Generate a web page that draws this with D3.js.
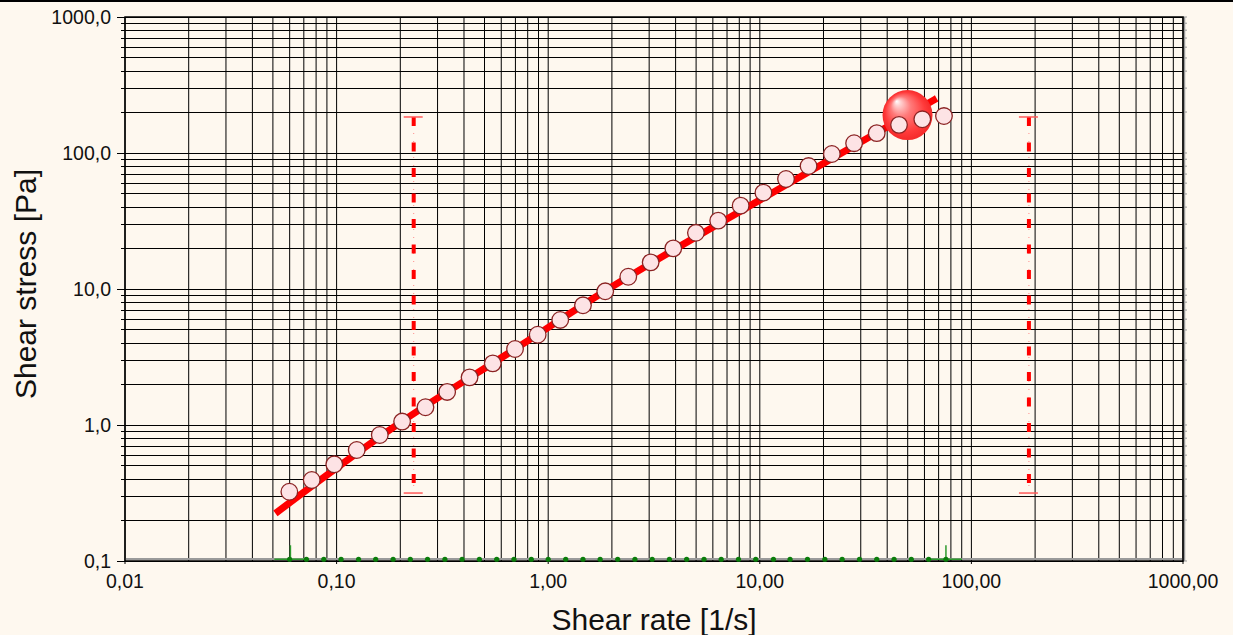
<!DOCTYPE html>
<html>
<head>
<meta charset="utf-8">
<script src="https://cdn.jsdelivr.net/npm/d3@7"></script>
<style>
  body { margin: 0; background: #fef8ef; }
  text { font-family: "Liberation Sans", Arial, sans-serif; fill: #111; }
</style>
</head>
<body>
<script>
// Measured points: shear rate [1/s] and shear stress [Pa]
const shearRate = [0.0598, 0.0763, 0.0975, 0.1245, 0.160, 0.204, 0.263, 0.333, 0.425, 0.547,
    0.697, 0.892, 1.14, 1.46, 1.86, 2.39, 3.05, 3.90, 4.99, 6.36,
    8.12, 10.4, 13.3, 17.0, 21.9, 27.9, 35.7, 45.5, 58.6, 74.2];
const shearStress = [0.323, 0.394, 0.514, 0.655, 0.844, 1.06, 1.35, 1.75, 2.24, 2.84,
    3.62, 4.61, 5.92, 7.59, 9.62, 12.3, 15.7, 19.9, 25.9, 31.8,
    41.0, 51.1, 64.4, 80.2, 98.3, 118, 140, 161, 177, 187];

// Fitted model curve
const fitRate = [0.0514, 0.203, 0.697, 1.89, 6.37, 17.0, 68.5];
const fitStress = [0.224, 1.057, 3.62, 9.83, 30.1, 72.5, 252];

// Highlighted point (big sphere)
const highlightRate = 49.9;
const highlightStress = 190;

// Range markers (dashed vertical lines)
const rangeRate = [0.2314, 187];
const rangeStress = [0.316, 184];

// Second series along the bottom (green)
const greenRate = [0.060, 0.072, 0.087, 0.105, 0.127, 0.153, 0.185, 0.223, 0.269, 0.325,
    0.392, 0.473, 0.571, 0.689, 0.832, 1.00, 1.21, 1.46, 1.76, 2.13,
    2.57, 3.10, 3.74, 4.51, 5.45, 6.57, 7.93, 9.57, 11.6, 13.9,
    16.8, 20.3, 24.5, 29.6, 35.7, 43.1, 52.0, 62.8, 75.8];
const greenValue = [0.103, 0.103, 0.103, 0.103, 0.103, 0.103, 0.103, 0.103, 0.103, 0.103,
    0.103, 0.103, 0.103, 0.103, 0.103, 0.103, 0.103, 0.103, 0.103, 0.103,
    0.103, 0.103, 0.103, 0.103, 0.103, 0.103, 0.103, 0.103, 0.103, 0.103,
    0.103, 0.103, 0.103, 0.103, 0.103, 0.103, 0.103, 0.103, 0.103];
const greenEnds = [0.0605, 75.8];

// Tick values and labels
const xTicks = [0.01, 0.1, 1, 10, 100, 1000];
const xTickLabels = ["0,01", "0,10", "1,00", "10,00", "100,00", "1000,00"];
const yTicks = [0.1, 1, 10, 100, 1000];
const yTickLabels = ["0,1", "1,0", "10,0", "100,0", "1000,0"];

const width = 1233, height = 635;
const plotLeft = 125, plotRight = 1183, plotTop = 17, plotBottom = 561;

const x = d3.scaleLog().domain([0.01, 1000]).range([plotLeft, plotRight]);
const y = d3.scaleLog().domain([0.1, 1000]).range([plotBottom, plotTop]);

const svg = d3.select("body").append("svg")
    .attr("width", width)
    .attr("height", height);

// top border line of the window
svg.append("line")
    .attr("x1", 0).attr("x2", width).attr("y1", 1).attr("y2", 1)
    .attr("stroke", "#000").attr("stroke-width", 2);

// Grid: all 1..9 x 10^k lines
const grid = svg.append("g");
y.ticks().forEach(v => {
    const major = yTicks.some(t => Math.abs(t - v) < 1e-9);
    grid.append("line")
        .attr("x1", plotLeft - (major ? 8 : 4)).attr("x2", plotRight)
        .attr("y1", y(v)).attr("y2", y(v))
        .attr("stroke", "#000").attr("stroke-width", 1)
        .attr("shape-rendering", "crispEdges");
    // little gray ticks on the right side
    grid.append("line")
        .attr("x1", plotRight).attr("x2", plotRight + 4)
        .attr("y1", y(v)).attr("y2", y(v))
        .attr("stroke", "#999").attr("stroke-width", 1);
});
x.ticks().forEach(v => {
    const major = xTicks.some(t => Math.abs(t - v) < 1e-9);
    grid.append("line")
        .attr("x1", x(v)).attr("x2", x(v))
        .attr("y1", plotTop).attr("y2", plotBottom + (major ? 3 : 1))
        .attr("stroke", "#000").attr("stroke-width", 1);
});

// gray inner edge along the bottom and right side
svg.append("line")
    .attr("x1", plotLeft).attr("x2", plotRight).attr("y1", plotBottom - 2).attr("y2", plotBottom - 2)
    .attr("stroke", "#9a9a9a").attr("stroke-width", 2);
svg.append("line")
    .attr("x1", plotRight + 1.5).attr("x2", plotRight + 1.5).attr("y1", plotTop).attr("y2", plotBottom)
    .attr("stroke", "#9a9a9a").attr("stroke-width", 1.5);

// Frame
svg.append("rect")
    .attr("x", plotLeft).attr("y", plotTop)
    .attr("width", plotRight - plotLeft).attr("height", plotBottom - plotTop)
    .attr("fill", "none").attr("stroke", "#000").attr("stroke-width", 1.5);

// Tick labels
svg.selectAll(".ylab").data(yTicks).enter().append("text")
    .attr("x", plotLeft - 14)
    .attr("y", d => y(d))
    .attr("dy", "0.36em")
    .attr("text-anchor", "end")
    .attr("font-size", "19.5px")
    .text((d, i) => yTickLabels[i]);

svg.selectAll(".xlab").data(xTicks).enter().append("text")
    .attr("x", d => x(d))
    .attr("y", plotBottom + 27)
    .attr("text-anchor", "middle")
    .attr("font-size", "19.5px")
    .text((d, i) => xTickLabels[i]);

// Axis titles
svg.append("text")
    .attr("x", 654).attr("y", 630)
    .attr("text-anchor", "middle")
    .attr("font-size", "30px")
    .text("Shear rate [1/s]");

svg.append("text")
    .attr("transform", "translate(36,284) rotate(-90)")
    .attr("text-anchor", "middle")
    .attr("font-size", "30px")
    .text("Shear stress [Pa]");

// Range markers
rangeRate.forEach(r => {
    const g = svg.append("g");
    g.append("line")
        .attr("x1", x(r)).attr("x2", x(r))
        .attr("y1", y(rangeStress[1])).attr("y2", y(rangeStress[0]))
        .attr("stroke", "#ff8a8a").attr("stroke-width", 1)
        .attr("stroke-dasharray", "1,7");
    g.append("line")
        .attr("x1", x(r)).attr("x2", x(r))
        .attr("y1", y(rangeStress[1])).attr("y2", y(rangeStress[0]))
        .attr("stroke", "#ff0000").attr("stroke-width", 4)
        .attr("stroke-dasharray", "9,16.5");
    rangeStress.forEach(s => {
        g.append("line")
            .attr("x1", x(r) - 10).attr("x2", x(r) + 9)
            .attr("y1", y(s)).attr("y2", y(s))
            .attr("stroke", "#ff5a5a").attr("stroke-width", 1.5);
    });
});

// Green series near the bottom
const green = svg.append("g");
greenEnds.forEach(r => {
    green.append("line")
        .attr("x1", x(r) - 16).attr("x2", x(r) + 16)
        .attr("y1", y(greenValue[0])).attr("y2", y(greenValue[0]))
        .attr("stroke", "#2e9a2e").attr("stroke-width", 1.5);
    green.append("line")
        .attr("x1", x(r)).attr("x2", x(r))
        .attr("y1", y(greenValue[0])).attr("y2", y(greenValue[0]) - 14)
        .attr("stroke", "#2e9a2e").attr("stroke-width", 1.5);
});
green.selectAll("circle").data(greenRate).enter().append("circle")
    .attr("cx", d => x(d))
    .attr("cy", (d, i) => y(greenValue[i]))
    .attr("r", 2.6)
    .attr("fill", "#0b7d0b");

// Fit curve
const fitLine = d3.line()
    .x(d => x(d[0]))
    .y(d => y(d[1]))
    .curve(d3.curveMonotoneX);
svg.append("path")
    .attr("d", fitLine(fitRate.map((r, i) => [r, fitStress[i]])))
    .attr("fill", "none")
    .attr("stroke", "#ff0000").attr("stroke-width", 7);

// Highlight sphere
const defs = svg.append("defs");
const grad = defs.append("radialGradient")
    .attr("id", "sphere")
    .attr("cx", "50%").attr("cy", "50%").attr("r", "50%")
    .attr("fx", "28%").attr("fy", "22%");
grad.append("stop").attr("offset", "0%").attr("stop-color", "#ffffff");
grad.append("stop").attr("offset", "12%").attr("stop-color", "#ffd0d0");
grad.append("stop").attr("offset", "40%").attr("stop-color", "#ff7a7a");
grad.append("stop").attr("offset", "80%").attr("stop-color", "#ff3a3a");
grad.append("stop").attr("offset", "100%").attr("stop-color", "#f42a2a");

svg.append("circle")
    .attr("cx", x(highlightRate)).attr("cy", y(highlightStress))
    .attr("r", 25)
    .attr("fill", "url(#sphere)");

// Data points
svg.selectAll(".pt").data(shearRate).enter().append("circle")
    .attr("cx", d => x(d))
    .attr("cy", (d, i) => y(shearStress[i]))
    .attr("r", 8.3)
    .attr("fill", "#fde3e5")
    .attr("stroke", "#8b2323")
    .attr("stroke-width", 1.3);
</script>
</body>
</html>
